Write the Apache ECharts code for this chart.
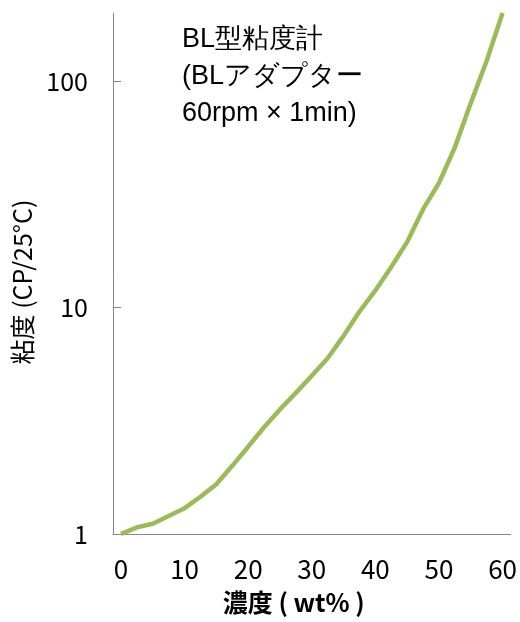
<!DOCTYPE html>
<html>
<head>
<meta charset="utf-8">
<script src="https://cdn.jsdelivr.net/npm/echarts@6/dist/echarts.min.js"></script>
<style>
  html, body { margin: 0; padding: 0; background: #fff; }
  #chart { width: 520px; height: 622px; }
</style>
</head>
<body>
<div id="chart"></div>
<script>
// Concentration categories (wt%) every 2.5
const concentration = ['0','2.5','5','7.5','10','12.5','15','17.5','20','22.5','25','27.5','30','32.5','35','37.5','40','42.5','45','47.5','50','52.5','55','57.5','60'];
// Viscosity (cP at 25°C)
const viscosity = [1.0, 1.07, 1.11, 1.2, 1.3, 1.46, 1.66, 2.0, 2.43, 2.96, 3.55, 4.2, 5.0, 5.97, 7.5, 9.6, 11.9, 15.1, 19.5, 27.2, 35.5, 51, 80, 123, 200];
// Y tick values shown on the log axis
const yTicks = [1, 10, 100];
const xTitle = '濃度 ( wt% )';
const yTitle = '粘度 (CP/25°C)';
const noteLines = ['BL型粘度計', '(BLアダプター', '60rpm × 1min)'];

const FONT = '"Noto Sans CJK JP", "Open Sans", sans-serif';
const chart = echarts.init(document.getElementById('chart'), null, { renderer: 'canvas' });
chart.setOption({
  animation: false,
  backgroundColor: '#ffffff',
  grid: { left: 113, right: 9, top: 13, bottom: 88, containLabel: false },
  xAxis: {
    type: 'category',
    data: concentration,
    boundaryGap: true,
    axisLine: { lineStyle: { color: '#868686', width: 1 } },
    axisTick: { show: false },
    axisLabel: { interval: 3, margin: 22, fontSize: 26, color: '#000', fontFamily: FONT },
    name: xTitle,
    nameLocation: 'middle',
    nameGap: 56,
    nameTextStyle: { fontSize: 25, fontWeight: 'bold', color: '#000', fontFamily: FONT, padding: [0, 36, 0, 0] }
  },
  yAxis: {
    type: 'log',
    logBase: 10,
    min: 1,
    max: 200,
    axisLine: { show: true, lineStyle: { color: '#868686', width: 1 } },
    axisTick: { show: true, inside: true, length: 8, lineStyle: { color: '#868686' }, customValues: yTicks },
    minorTick: { show: false },
    splitLine: { show: false },
    axisLabel: { margin: 25, fontSize: 25, color: '#000', fontFamily: FONT, customValues: yTicks },
    name: yTitle,
    nameLocation: 'middle',
    nameGap: 70,
    nameRotate: 90,
    nameTextStyle: { fontSize: 25, color: '#000', fontFamily: FONT, padding: [0, 17, 0, 0] }
  },
  series: [{
    type: 'line',
    data: viscosity,
    showSymbol: false,
    symbol: 'none',
    smooth: false,
    lineStyle: { color: '#9BBB59', width: 4.5 },
    z: 3
  }],
  graphic: [{
    type: 'text',
    left: 182,
    top: 21,
    style: {
      text: noteLines.join('\n'),
      fontSize: 27,
      lineHeight: 37,
      fill: '#000',
      font: '27px ' + FONT
    }
  }]
});
</script>
</body>
</html>
